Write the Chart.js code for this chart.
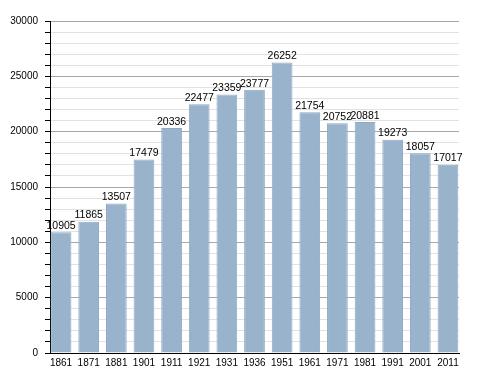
<!DOCTYPE html>
<html>
<head>
<meta charset="utf-8">
<script src="https://cdn.jsdelivr.net/npm/chart.js@4"></script>
<style>
  html, body { margin: 0; padding: 0; background: #fff; }
  #wrap { width: 488px; height: 373px; }
</style>
</head>
<body>
<div id="wrap"><canvas id="myChart" width="488" height="373"></canvas></div>
<script>
// data
var years = ['1861','1871','1881','1901','1911','1921','1931','1936','1951','1961','1971','1981','1991','2001','2011'];
var population = [10905, 11865, 13507, 17479, 20336, 22477, 23359, 23777, 26252, 21754, 20752, 20881, 19273, 18057, 17017];

var FONT = '"Liberation Sans", Arial, sans-serif';

// one bar per census, placed by index on a linear x scale
var points = [];
population.forEach(function(v, i){ points.push({ x: i, y: v }); });

// value labels on top of each bar
var barLabels = {
    id: 'barLabels',
    afterDatasetsDraw: function(chart){
        var ctx = chart.ctx;
        var meta = chart.getDatasetMeta(0);
        ctx.save();
        ctx.font = '10.5px ' + FONT;
        ctx.fillStyle = '#000';
        ctx.textAlign = 'center';
        ctx.textBaseline = 'bottom';
        meta.data.forEach(function(bar, i){
            ctx.fillText(population[i], bar.x, bar.y - 1);
        });
        ctx.restore();
    }
};

const myChart = document.querySelector('#myChart').getContext('2d');

const chart = new Chart(myChart, {
    type: 'bar',
    data: {
        datasets: [{
            data: points,
            backgroundColor: '#99b3cd',
            borderColor: '#8fa9c4',
            borderWidth: 1,
            categoryPercentage: 1,
            barPercentage: 0.75
        }]
    },
    plugins: [barLabels],
    options: {
        responsive: false,
        animation: false,
        layout: { padding: { left: 0, top: 21, right: 29, bottom: 0 } },
        plugins: {
            legend: { display: false },
            tooltip: { enabled: false }
        },
        scales: {
            x: {
                type: 'linear',
                offset: false,
                min: -0.4,
                max: 14.4,
                grid: { display: false, drawTicks: false },
                border: { color: '#000', width: 1 },
                ticks: {
                    stepSize: 1,
                    includeBounds: false,
                    autoSkip: false,
                    maxRotation: 0,
                    color: '#000',
                    padding: 4,
                    font: { size: 10, family: FONT },
                    callback: function(v){ return Number.isInteger(v) && years[v] ? years[v] : ''; }
                },
                afterFit: function(scale){ scale.height = 20; }
            },
            y: {
                min: 0,
                max: 30000,
                ticks: {
                    stepSize: 1000,
                    autoSkip: false,
                    color: '#000',
                    padding: 7,
                    font: { size: 10, family: FONT },
                    callback: function(v){ return v % 5000 === 0 ? v : ''; }
                },
                grid: {
                    color: function(c){ return c.tick && c.tick.value % 5000 === 0 ? '#a8a8a8' : '#e2e2e2'; },
                    tickColor: '#000',
                    tickLength: 5
                },
                border: { color: '#000', width: 1 },
                afterFit: function(scale){ scale.width = 50; }
            }
        }
    }
});
</script>
</body>
</html>
